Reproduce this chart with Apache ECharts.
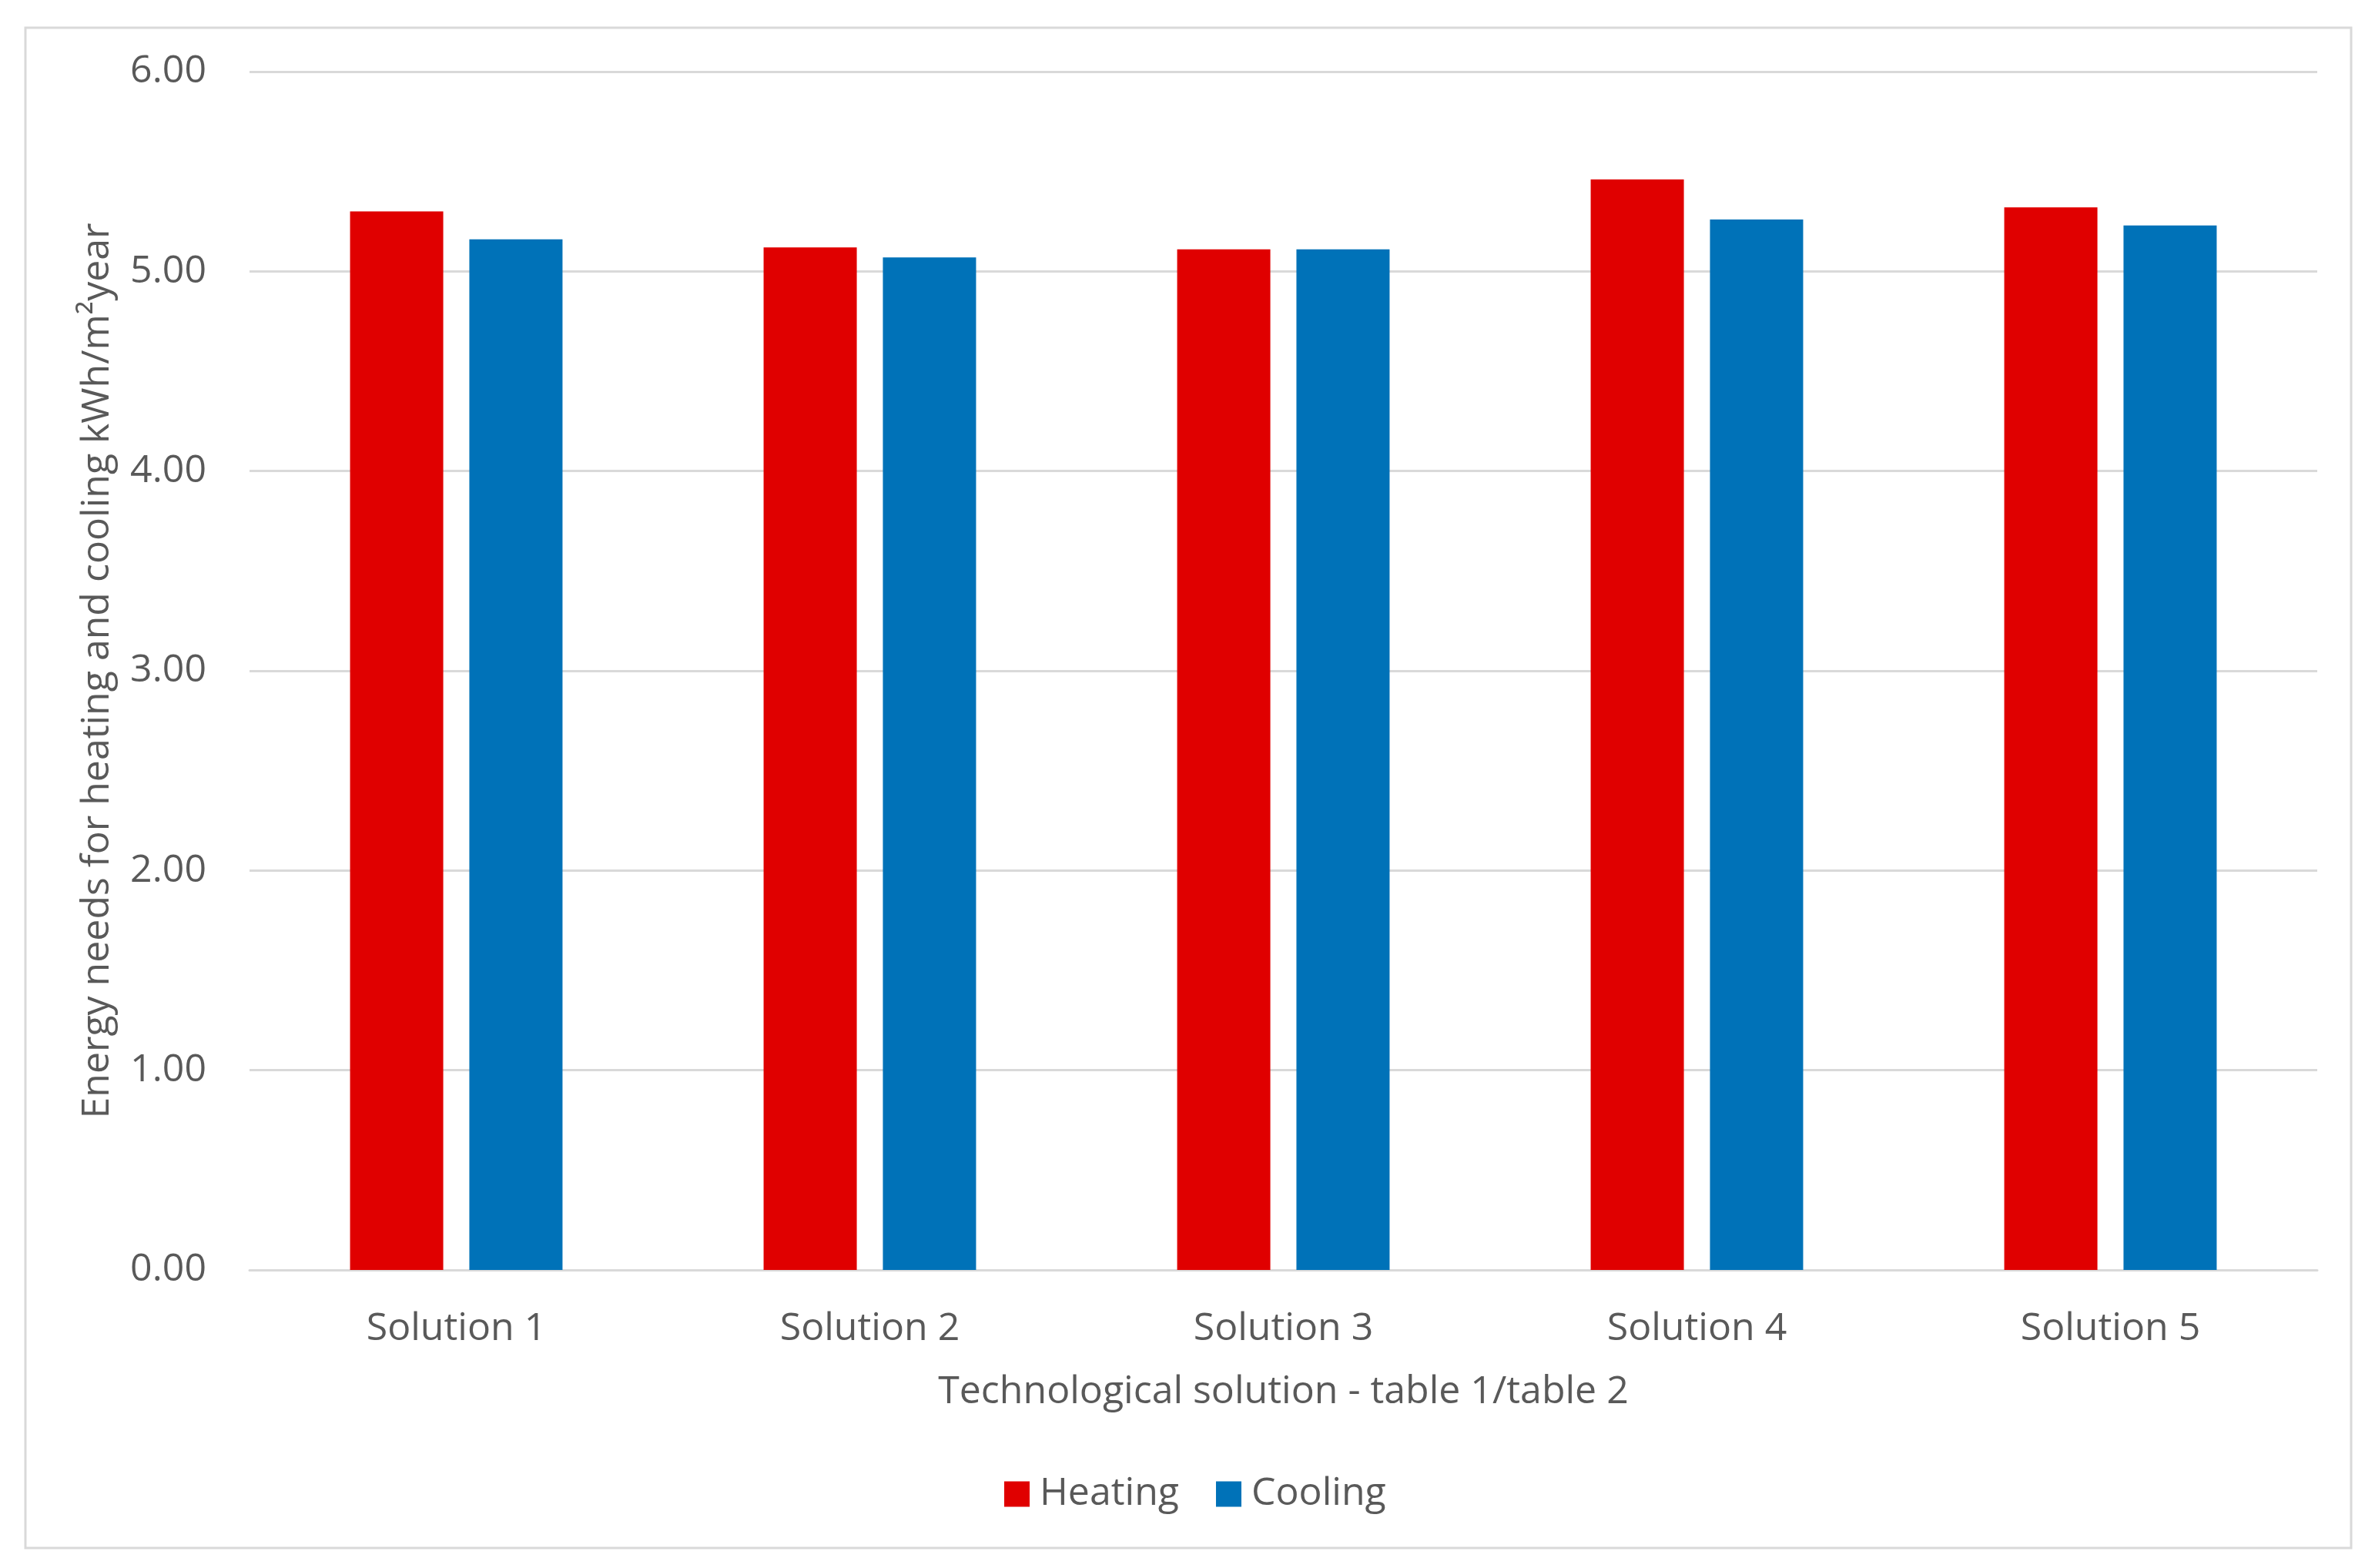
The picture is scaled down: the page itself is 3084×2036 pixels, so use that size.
<!DOCTYPE html>
<html>
<head>
<meta charset="utf-8">
<script src="https://cdn.jsdelivr.net/npm/echarts@6/dist/echarts.min.js"></script>
<style>
html,body{margin:0;padding:0;background:#fff;}
#chart{width:3084px;height:2036px;}
</style>
</head>
<body>
<div id="chart"></div>
<script>
const categories = ['Solution 1', 'Solution 2', 'Solution 3', 'Solution 4', 'Solution 5'];
const heating = [5.30, 5.12, 5.11, 5.46, 5.32];
const cooling = [5.16, 5.07, 5.11, 5.26, 5.23];
const seriesNames = ['Heating', 'Cooling'];
const xTitle = 'Technological solution - table 1/table 2';
const yTitle = 'Energy needs for heating and cooling kWh/m\u00B2year';

const font = 'Open Sans';
const fs = 50;
const textColor = '#595959';
const chart = echarts.init(document.getElementById('chart'));
chart.setOption({
  backgroundColor: '#ffffff',
  animation: false,
  graphic: [{
    type: 'rect',
    shape: { x: 33, y: 36, width: 3020, height: 1974 },
    style: { fill: 'none', stroke: '#D9D9D9', lineWidth: 3 },
    silent: true
  }],
  grid: { left: 324, right: 75, top: 93, bottom: 387, containLabel: false },
  legend: {
    data: seriesNames,
    bottom: 66,
    left: 1299,
    icon: 'rect',
    itemWidth: 33,
    itemHeight: 33,
    itemGap: 48,
    textStyle: { fontFamily: font, fontSize: fs, color: textColor, padding: [0, 0, 0, 8] }
  },
  xAxis: {
    type: 'category',
    data: categories,
    axisLine: { show: true, lineStyle: { color: '#D9D9D9', width: 3 } },
    axisTick: { show: false },
    axisLabel: { fontFamily: font, fontSize: fs, color: textColor, margin: 52 },
    name: xTitle,
    nameLocation: 'middle',
    nameGap: 134,
    nameTextStyle: { fontFamily: font, fontSize: fs, color: textColor }
  },
  yAxis: {
    type: 'value',
    min: 0,
    max: 6,
    interval: 1,
    axisLine: { show: false },
    axisTick: { show: false },
    splitLine: { lineStyle: { color: '#D9D9D9', width: 3 } },
    axisLabel: {
      fontFamily: font, fontSize: fs, color: textColor, margin: 56,
      formatter: v => v.toFixed(2)
    },
    name: yTitle,
    nameLocation: 'middle',
    nameGap: 172,
    nameTextStyle: { fontFamily: font, fontSize: fs, color: textColor }
  },
  series: [
    { name: seriesNames[0], type: 'bar', data: heating, barWidth: 121, barGap: '28%',
      itemStyle: { color: '#E00000' } },
    { name: seriesNames[1], type: 'bar', data: cooling, barWidth: 121, barGap: '28%',
      itemStyle: { color: '#0072B8' } }
  ]
});
</script>
</body>
</html>
